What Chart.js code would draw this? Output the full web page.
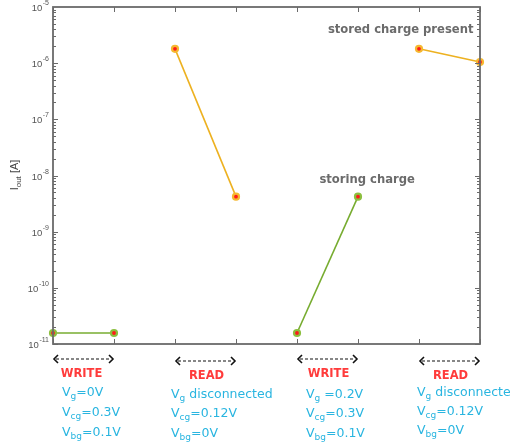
<!DOCTYPE html>
<html><head><meta charset="utf-8">
<script src="https://cdn.jsdelivr.net/npm/chart.js@4"></script>
<style>html,body{margin:0;padding:0;background:#fff}#wrap{width:510px;height:444px;position:relative}</style>
</head><body><div id="wrap"><canvas id="c" width="510" height="444"></canvas></div>
<script>
// ---- data ----
const phaseNames = ['WRITE', 'READ', 'WRITE', 'READ'];
const phaseX = [[0, 1], [2, 3], [4, 5], [6, 7]];
const write1 = [1.57e-11, 1.57e-11];
const read1 = [1.8e-6, 4.2e-9];
const write2 = [1.57e-11, 4.2e-9];
const read2 = [1.8e-6, 1.05e-6];
const yTickExps = [-11, -10, -9, -8, -7, -6, -5];
const xTicks = [0, 1, 2, 3, 4, 5, 6, 7];
const vgText = [['g', '=0V'], ['g', ' disconnected'], ['g', ' =0.2V'], ['g', ' disconnected']];
const vcgText = ['=0.3V', '=0.12V', '=0.3V', '=0.12V'];
const vbgText = ['=0.1V', '=0V', '=0.1V', '=0V'];
const notes = [{text: 'stored charge present', x: 5.7, y: 3.9e-6}, {text: 'storing charge', x: 5.15, y: 8.3e-9}];

const GREEN = '#77ac30', GREEN_M = '#8cbf3f', ORANGE = '#edb120', ORANGE_M = '#f5b830', RED = '#ff1a1a';
function ds(xs, ys, line, mk) {
  return {data: xs.map((x, i) => ({x, y: ys[i]})), borderColor: line, borderWidth: 1.6,
    pointBackgroundColor: RED, pointBorderColor: mk, pointRadius: 3, pointBorderWidth: 2.2, clip: false, tension: 0};
}

const deco = {
  id: 'deco',
  afterDraw(chart) {
    const ctx = chart.ctx, a = chart.chartArea, xs = chart.scales.x, ys = chart.scales.y;
    ctx.save();
    ctx.strokeStyle = '#6a6a6a'; ctx.lineWidth = 1.8;
    ctx.strokeRect(a.left, a.top, a.right - a.left, a.bottom - a.top);
    ctx.lineWidth = 1;
    xTicks.forEach(v => {
      const px = Math.round(xs.getPixelForValue(v)) + 0.5;
      ctx.beginPath(); ctx.moveTo(px, a.bottom); ctx.lineTo(px, a.bottom - 5);
      ctx.moveTo(px, a.top); ctx.lineTo(px, a.top + 5); ctx.stroke();
    });
    for (let e = -11; e < -5; e++) {
      for (let k = 1; k <= 9; k++) {
        const py = Math.round(ys.getPixelForValue(k * Math.pow(10, e))) + 0.5;
        const len = k === 1 ? 5 : 3;
        ctx.beginPath(); ctx.moveTo(a.left, py); ctx.lineTo(a.left + len, py);
        ctx.moveTo(a.right, py); ctx.lineTo(a.right - len, py); ctx.stroke();
      }
    }
    ctx.fillStyle = '#555';
    yTickExps.forEach(e => {
      const py = ys.getPixelForValue(Math.pow(10, e));
      const sup = String(e);
      ctx.font = '7px "Liberation Sans", Arial, sans-serif';
      const sw = ctx.measureText(sup).width;
      ctx.textBaseline = 'alphabetic'; ctx.textAlign = 'right';
      ctx.fillText(sup, a.left - 4, py - 2);
      ctx.font = '9.5px "Liberation Sans", Arial, sans-serif';
      ctx.fillText('10', a.left - 4 - sw - 0.5, py + 4);
    });
    ctx.save();
    ctx.translate(18, 175); ctx.rotate(-Math.PI / 2);
    ctx.fillStyle = '#444'; ctx.textAlign = 'left'; ctx.textBaseline = 'alphabetic';
    const F1 = '11px "Liberation Sans", Arial, sans-serif', F2 = '8px "Liberation Sans", Arial, sans-serif';
    ctx.font = F1; const w1 = ctx.measureText('I').width;
    ctx.font = F2; const w2 = ctx.measureText('out').width;
    ctx.font = F1; const w3 = ctx.measureText(' [A]').width;
    const sx = -(w1 + w2 + w3) / 2;
    ctx.fillText('I', sx, 0);
    ctx.font = F2; ctx.fillText('out', sx + w1, 3);
    ctx.font = F1; ctx.fillText(' [A]', sx + w1 + w2, 0);
    ctx.restore();
    ctx.fillStyle = '#6b6b6b'; ctx.font = 'bold 11.6px "DejaVu Sans", Verdana, sans-serif';
    ctx.textAlign = 'center'; ctx.textBaseline = 'middle';
    notes.forEach(n => ctx.fillText(n.text, xs.getPixelForValue(n.x), ys.getPixelForValue(n.y)));
    phaseX.forEach((p, i) => {
      const x0 = xs.getPixelForValue(p[0]), x1 = xs.getPixelForValue(p[1]);
      const ay = 359 + (i % 2) * 2;
      ctx.strokeStyle = '#111'; ctx.lineWidth = 1.2;
      ctx.setLineDash([3, 2]);
      ctx.beginPath(); ctx.moveTo(x0 + 3, ay); ctx.lineTo(x1 - 3, ay); ctx.stroke();
      ctx.setLineDash([]); ctx.lineWidth = 1.6;
      ctx.beginPath(); ctx.moveTo(x0 + 5, ay - 4); ctx.lineTo(x0 + 1, ay); ctx.lineTo(x0 + 5, ay + 4);
      ctx.moveTo(x1 - 5, ay - 4); ctx.lineTo(x1 - 1, ay); ctx.lineTo(x1 - 5, ay + 4); ctx.stroke();
      ctx.fillStyle = '#ff3b3b'; ctx.font = 'bold 11.5px "DejaVu Sans", Verdana, sans-serif';
      ctx.textAlign = 'center'; ctx.textBaseline = 'middle';
      ctx.fillText(phaseNames[i], (x0 + x1) / 2 - (i === 0 ? 2 : -1), ay + 15);
      const tx = [62, 171, 306, 417][i];
      const rows = [['V', vgText[i][0], vgText[i][1]], ['V', 'cg', vcgText[i]], ['V', 'bg', vbgText[i]]];
      const ry = i === 3 ? [393, 412, 431] : (i === 0 ? [393, 413, 433] : [395, 414, 434]);
      ctx.fillStyle = '#29b5e0'; ctx.textAlign = 'left'; ctx.textBaseline = 'middle';
      rows.forEach((r, j) => {
        let x = tx;
        ctx.font = '12.5px "DejaVu Sans", Verdana, sans-serif';
        ctx.fillText(r[0], x, ry[j]); x += ctx.measureText(r[0]).width;
        ctx.font = '9px "DejaVu Sans", Verdana, sans-serif';
        ctx.fillText(r[1], x, ry[j] + 4); x += ctx.measureText(r[1]).width;
        ctx.font = '12.5px "DejaVu Sans", Verdana, sans-serif';
        ctx.fillText(r[2], x, ry[j]);
      });
    });
    ctx.restore();
  }
};

new Chart(document.getElementById('c'), {
  type: 'line',
  data: {datasets: [
    ds(phaseX[0], write1, GREEN, GREEN_M),
    ds(phaseX[1], read1, ORANGE, ORANGE_M),
    ds(phaseX[2], write2, GREEN, GREEN_M),
    ds(phaseX[3], read2, ORANGE, ORANGE_M)
  ]},
  options: {
    responsive: false, animation: false, devicePixelRatio: 1,
    layout: {padding: {left: 53, right: 30, top: 7, bottom: 100}},
    plugins: {legend: {display: false}, tooltip: {enabled: false}},
    scales: {
      x: {type: 'linear', min: 0, max: 7, display: false},
      y: {type: 'logarithmic', min: 1e-11, max: 1e-5, display: false}
    }
  },
  plugins: [deco]
});
</script></body></html>
